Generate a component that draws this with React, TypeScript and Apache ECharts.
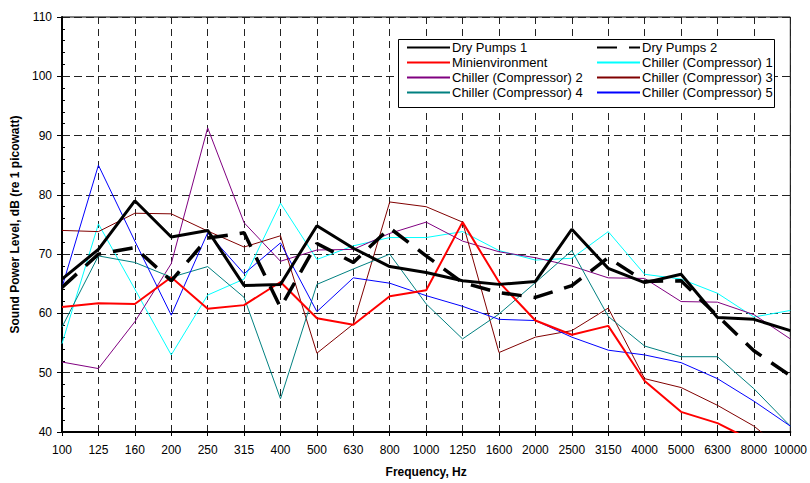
import React, { useEffect, useRef } from "react";
import * as echarts from "echarts";

const categories = ["100", "125", "160", "200", "250", "315", "400", "500", "630", "800", "1000", "1250", "1600", "2000", "2500", "3150", "4000", "5000", "6300", "8000", "10000"];

const dryPumps1 = [65.8, 70.8, 79.0, 72.9, 74.0, 64.7, 64.9, 74.8, 71.0, 67.9, 66.9, 65.5, 64.9, 65.4, 74.2, 67.6, 65.2, 66.6, 59.3, 59.0, 57.1];
const dryPumps2 = [64.4, 70.0, 71.1, 65.5, 72.7, 73.6, 61.0, 71.8, 68.6, 74.4, 69.7, 65.2, 63.5, 62.7, 64.7, 69.4, 65.4, 65.5, 59.6, 53.7, 49.5];
const minienvironment = [61.1, 61.7, 61.6, 66.1, 60.8, 61.4, 65.3, 59.2, 58.1, 62.9, 63.9, 75.4, 65.3, 58.8, 56.4, 57.9, 48.6, 43.4, 41.5, 38.4, 35.0];
const chiller1 = [54.9, 75.1, 64.1, 53.0, 63.1, 65.8, 78.6, 69.1, 71.4, 72.8, 72.8, 73.8, 70.6, 69.0, 69.3, 73.8, 66.6, 65.8, 63.4, 59.4, 60.5];
const chiller2 = [51.8, 50.7, 58.6, 68.4, 91.3, 75.3, 68.8, 70.7, 70.8, 73.5, 75.4, 72.2, 70.4, 69.4, 68.0, 66.0, 65.9, 62.0, 61.9, 59.8, 55.7];
const chiller3 = [74.0, 73.8, 76.9, 76.8, 73.9, 71.2, 73.1, 53.3, 58.2, 78.8, 78.0, 75.4, 53.4, 56.0, 57.1, 60.9, 49.0, 47.5, 44.5, 41.0, 36.0];
const chiller4 = [57.7, 69.7, 68.6, 66.1, 67.9, 62.7, 45.6, 64.9, 67.5, 70.0, 61.6, 55.7, 59.9, 65.2, 70.6, 59.5, 54.5, 52.7, 52.7, 47.3, 41.0];
const chiller5 = [64.4, 85.0, 72.2, 59.7, 73.6, 66.7, 71.9, 60.3, 66.0, 65.1, 63.0, 61.2, 59.0, 58.8, 56.0, 53.8, 53.0, 51.7, 49.0, 45.2, 41.0];

const legendCol1 = ["Dry Pumps 1", "Minienvironment", "Chiller (Compressor) 2", "Chiller (Compressor) 4"];
const legendCol2 = ["Dry Pumps 2", "Chiller (Compressor) 1", "Chiller (Compressor) 3", "Chiller (Compressor) 5"];

const FONT = '"Liberation Sans", Arial, sans-serif';

export default function App() {
  const ref = useRef<HTMLDivElement>(null);
  useEffect(() => {
    if (!ref.current) return;
    const chart = echarts.init(ref.current, undefined, { renderer: "svg" });
    const thin = (name: string, data: number[], color: string, width = 1, z = 2, type: any = "solid") => ({
      name,
      type: "line",
      data,
      symbol: "none",
      z,
      lineStyle: { color, width, type },
      itemStyle: { color },
    });
    const legendBase = {
      orient: "vertical",
      itemWidth: 43,
      itemHeight: 14,
      itemGap: 2,
      padding: 0,
      selectedMode: false,
      itemStyle: { opacity: 0 },
      textStyle: { fontSize: 13, fontFamily: FONT, color: "#000", padding: [0, 0, 0, -3] },
    };
    chart.setOption({
      animation: false,
      backgroundColor: "#fff",
      grid: { left: 62, right: 18, top: 17, bottom: 51, show: true, borderColor: "#000", borderWidth: 1 },
      legend: [
        { ...legendBase, left: 406, top: 41, data: legendCol1 },
        { ...legendBase, left: 596, top: 41, data: legendCol2 },
      ],
      graphic: [
        {
          type: "rect",
          z: 3,
          shape: { x: 398.5, y: 39.5, width: 376, height: 68 },
          style: { fill: "#fff", stroke: "#000", lineWidth: 1 },
        },
      ],
      xAxis: {
        type: "category",
        data: categories,
        boundaryGap: false,
        name: "Frequency, Hz",
        nameLocation: "middle",
        nameGap: 34,
        nameTextStyle: { fontSize: 12, fontWeight: "bold", fontFamily: FONT, color: "#000" },
        axisLine: { lineStyle: { color: "#000", width: 2 } },
        axisTick: { show: true, length: 4, lineStyle: { color: "#000" } },
        axisLabel: { fontSize: 12, fontFamily: FONT, color: "#000", margin: 12, interval: 0 },
        splitLine: { show: true, lineStyle: { color: "#222", width: 1, type: [7, 5] } },
      },
      yAxis: [
        {
          type: "value",
          min: 40,
          max: 110,
          interval: 10,
          name: "Sound Power Level, dB (re 1 picowatt)",
          nameLocation: "middle",
          nameGap: 40,
          nameTextStyle: { fontSize: 12, fontWeight: "bold", fontFamily: FONT, color: "#000" },
          axisLine: { show: true, lineStyle: { color: "#000", width: 2 } },
          axisTick: { show: true, length: 5, lineStyle: { color: "#000" } },
          axisLabel: { fontSize: 12, fontFamily: FONT, color: "#000", margin: 10 },
          splitLine: { show: true, lineStyle: { color: "#222", width: 1, type: [8, 4] } },
        },
        {
          type: "value",
          min: 40,
          max: 110,
          interval: 10,
          position: "left",
          axisLine: { show: false },
          axisLabel: { show: false },
          axisTick: { show: false, inside: true },
          minorTick: { show: true, splitNumber: 5, length: 3, lineStyle: { color: "#000" } },
          splitLine: { show: false },
        },
      ],
      series: [
        thin("Chiller (Compressor) 1", chiller1, "#00ffff"),
        thin("Chiller (Compressor) 2", chiller2, "#800080"),
        thin("Chiller (Compressor) 3", chiller3, "#800000"),
        thin("Chiller (Compressor) 4", chiller4, "#008080"),
        thin("Chiller (Compressor) 5", chiller5, "#0000ff"),
        thin("Minienvironment", minienvironment, "#ff0000", 2, 2),
        thin("Dry Pumps 2", dryPumps2, "#000000", 3.5, 2, [20, 12]),
        thin("Dry Pumps 1", dryPumps1, "#000000", 3, 2),
      ],
    });
    return () => chart.dispose();
  }, []);
  return <div ref={ref} style={{ position: "fixed", left: 0, top: 0, width: 810, height: 483 }} />;
}
